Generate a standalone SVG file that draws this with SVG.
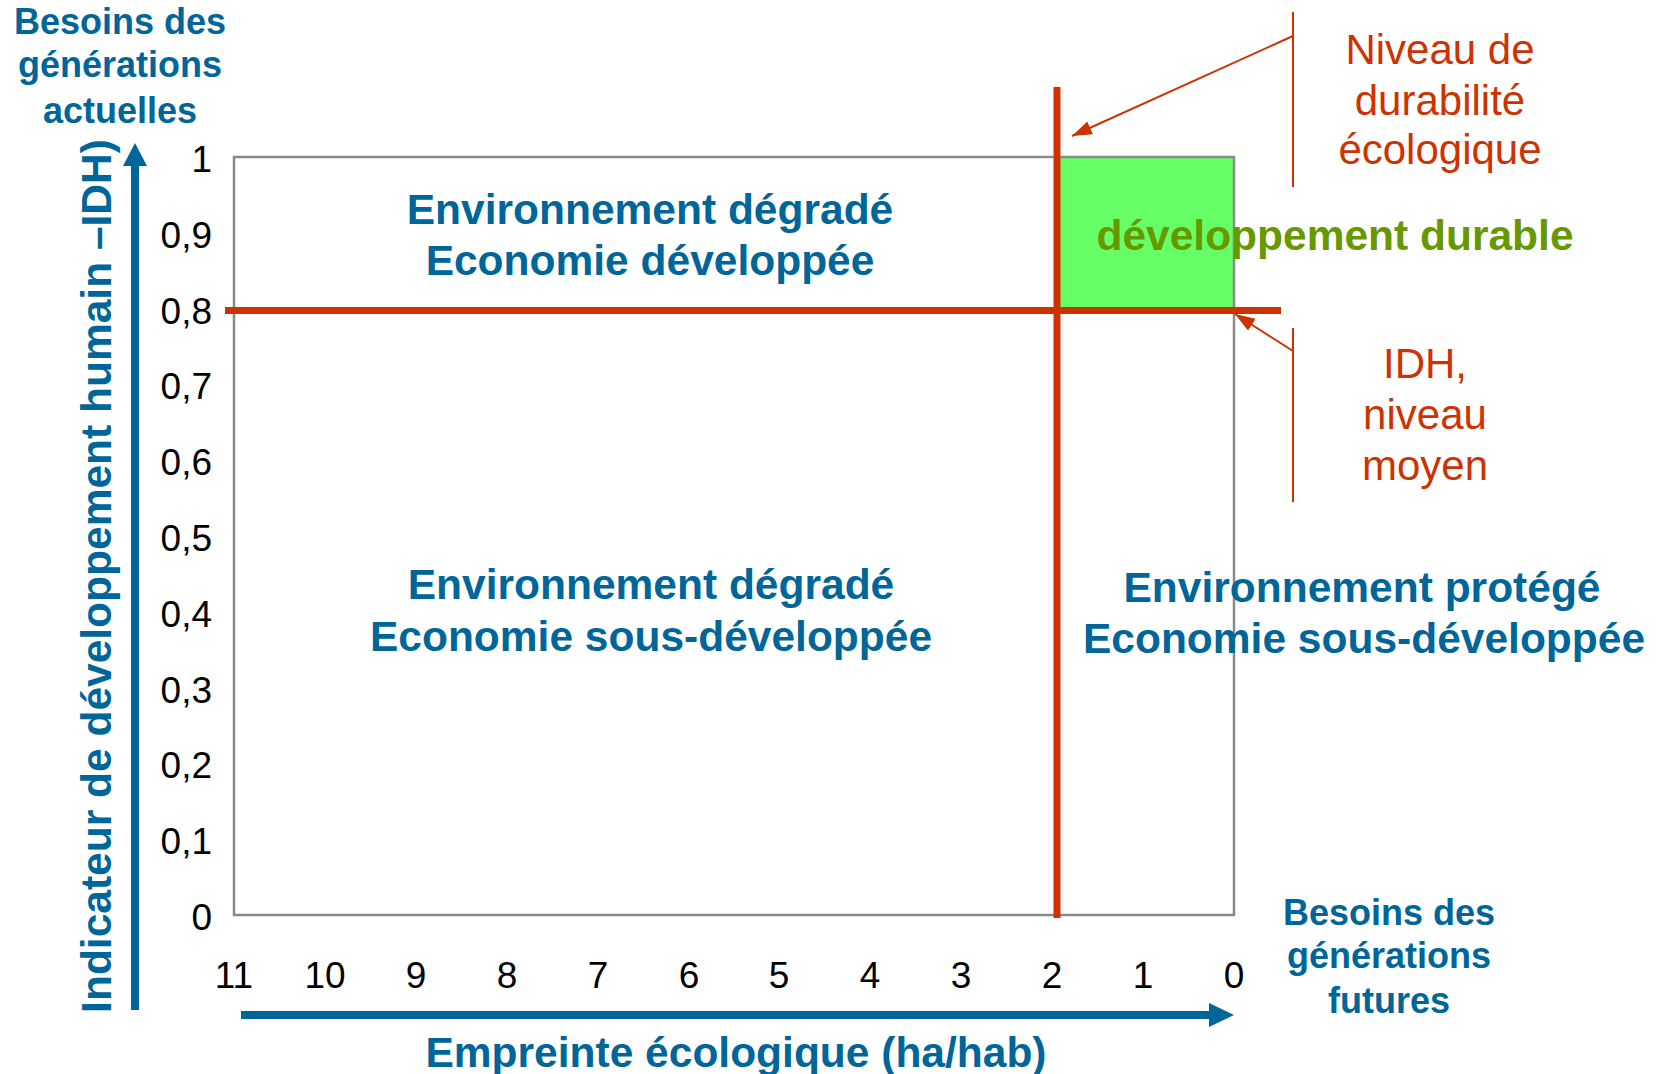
<svg xmlns="http://www.w3.org/2000/svg" width="1659" height="1074" viewBox="0 0 1659 1074">
<style>
  .blue { fill: #006699; font-family: "Liberation Sans", Arial, sans-serif; font-weight: bold; }
  .q { font-size: 42.5px; text-anchor: middle; }
  .need { font-size: 36px; text-anchor: middle; }
  .red { fill: #CC3300; font-family: "Liberation Sans", Arial, sans-serif; font-size: 42px; text-anchor: middle; }
  .tick { fill: #000; font-family: "Liberation Sans", Arial, sans-serif; font-size: 37px; }
  .ty { text-anchor: end; }
  .tx { text-anchor: middle; }
  .thick { stroke: #CC3300; stroke-width: 7; fill: none; }
  .call { stroke: #CC3300; stroke-width: 2; fill: none; }
  .axis { fill: #006699; }
</style>
<defs>
  <marker id="ah" markerUnits="userSpaceOnUse" markerWidth="22" markerHeight="16" refX="20" refY="7" orient="auto">
    <path d="M0,0 L20,7 L0,14 z" fill="#CC3300"/>
  </marker>
</defs>
<rect width="1659" height="1074" fill="#fff"/>

<g id="plot-frame">
  <rect x="1060" y="157" width="174" height="150" fill="#66FF66"/>
  <rect x="234" y="157" width="1000" height="758" fill="none" stroke="#8a8a8a" stroke-width="2.5"/>
  <line class="thick" x1="225" y1="310.5" x2="1281" y2="310.5"/>
  <line class="thick" x1="1057" y1="87" x2="1057" y2="918"/>
</g>

<g id="y-axis">
  <rect class="axis" x="131" y="163" width="8" height="847"/>
  <polygon class="axis" points="135,143 147,166 123,166"/>
  <text class="blue q" transform="translate(111,576) rotate(-90)">Indicateur de développement humain –IDH)</text>
  <text class="tick ty" x="212" y="172">1</text>
  <text class="tick ty" x="212" y="248">0,9</text>
  <text class="tick ty" x="212" y="323.6">0,8</text>
  <text class="tick ty" x="212" y="399.4">0,7</text>
  <text class="tick ty" x="212" y="475.2">0,6</text>
  <text class="tick ty" x="212" y="551">0,5</text>
  <text class="tick ty" x="212" y="626.8">0,4</text>
  <text class="tick ty" x="212" y="702.6">0,3</text>
  <text class="tick ty" x="212" y="778.4">0,2</text>
  <text class="tick ty" x="212" y="854.2">0,1</text>
  <text class="tick ty" x="212" y="930">0</text>
</g>

<g id="x-axis">
  <rect class="axis" x="241" y="1011" width="970" height="8"/>
  <polygon class="axis" points="1234,1015 1209,1003 1209,1027"/>
  <text class="blue q" x="736" y="1067">Empreinte écologique (ha/hab)</text>
  <text class="tick tx" x="234" y="988">11</text>
  <text class="tick tx" x="325" y="988">10</text>
  <text class="tick tx" x="416" y="988">9</text>
  <text class="tick tx" x="507" y="988">8</text>
  <text class="tick tx" x="598" y="988">7</text>
  <text class="tick tx" x="689" y="988">6</text>
  <text class="tick tx" x="779" y="988">5</text>
  <text class="tick tx" x="870" y="988">4</text>
  <text class="tick tx" x="961" y="988">3</text>
  <text class="tick tx" x="1052" y="988">2</text>
  <text class="tick tx" x="1143" y="988">1</text>
  <text class="tick tx" x="1234" y="988">0</text>
</g>

<g id="label-current-needs">
  <text class="blue need" x="120" y="34">Besoins des</text>
  <text class="blue need" x="120" y="77">générations</text>
  <text class="blue need" x="120" y="123">actuelles</text>
</g>

<g id="label-future-needs">
  <text class="blue need" x="1389" y="925">Besoins des</text>
  <text class="blue need" x="1389" y="968">générations</text>
  <text class="blue need" x="1389" y="1013">futures</text>
</g>

<g id="quadrant-top-left">
  <text class="blue q" x="650" y="224">Environnement dégradé</text>
  <text class="blue q" x="650" y="275">Economie développée</text>
</g>

<g id="quadrant-bottom-left">
  <text class="blue q" x="651" y="599">Environnement dégradé</text>
  <text class="blue q" x="651" y="651">Economie sous-développée</text>
</g>

<g id="quadrant-bottom-right">
  <text class="blue q" x="1362" y="602">Environnement protégé</text>
  <text class="blue q" x="1364" y="653">Economie sous-développée</text>
</g>

<g id="quadrant-top-right">
  <text x="1335" y="250" text-anchor="middle" font-family="'Liberation Sans', Arial, sans-serif" font-weight="bold" font-size="42.5" fill="#669900">développement durable</text>
</g>

<g id="note-sustainability">
  <text class="red" x="1440" y="64">Niveau de</text>
  <text class="red" x="1440" y="115">durabilité</text>
  <text class="red" x="1440" y="164">écologique</text>
</g>

<g id="note-idh">
  <text class="red" x="1425" y="378">IDH,</text>
  <text class="red" x="1425" y="429">niveau</text>
  <text class="red" x="1425" y="480">moyen</text>
</g>

<g id="connectors">
  <line class="call" x1="1293" y1="12" x2="1293" y2="187"/>
  <line class="call" x1="1293" y1="36" x2="1072" y2="136" marker-end="url(#ah)"/>
  <line class="call" x1="1293" y1="328" x2="1293" y2="502"/>
  <line class="call" x1="1293" y1="351" x2="1235" y2="314" marker-end="url(#ah)"/>
</g>
</svg>
